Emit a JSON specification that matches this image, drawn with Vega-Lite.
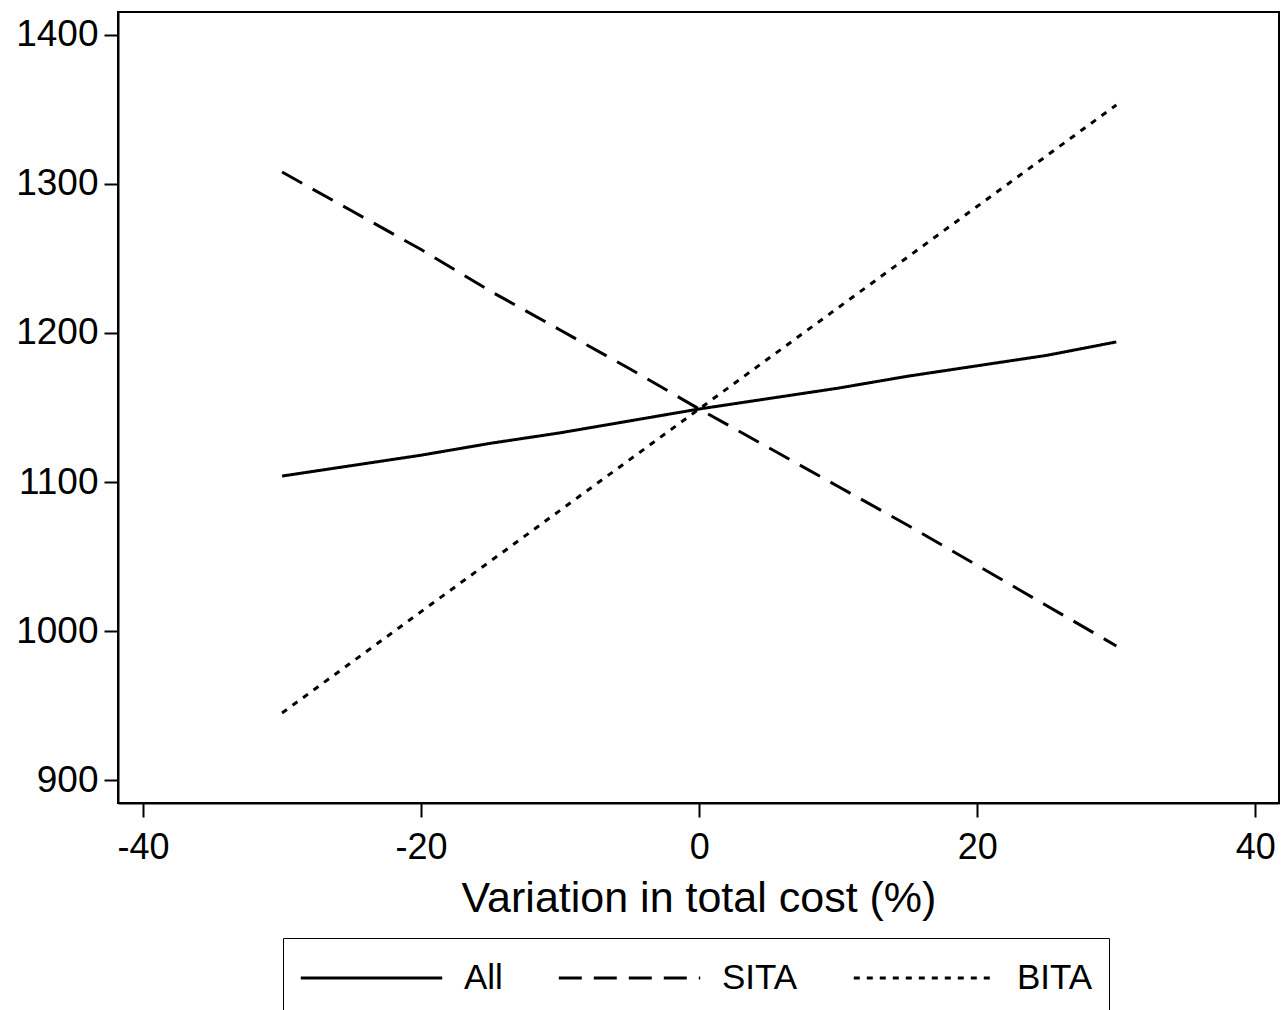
{
  "$schema": "https://vega.github.io/schema/vega-lite/v6.json",
  "width": 1161,
  "height": 791,
  "autosize": "none",
  "padding": {"left": 118, "top": 12, "right": 2, "bottom": 207},
  "background": "white",
  "config": {
    "font": "Liberation Sans",
    "view": {"stroke": "black", "strokeWidth": 2}
  },
  "data": {
    "values": [
      {"x": -30, "y": 1104, "s": "All"}, {"x": -25, "y": 1111, "s": "All"}, {"x": -20, "y": 1118, "s": "All"},
      {"x": -15, "y": 1126, "s": "All"}, {"x": -10, "y": 1133, "s": "All"}, {"x": -5, "y": 1141, "s": "All"},
      {"x": 0, "y": 1149, "s": "All"}, {"x": 5, "y": 1156, "s": "All"}, {"x": 10, "y": 1163, "s": "All"},
      {"x": 15, "y": 1171, "s": "All"}, {"x": 20, "y": 1178, "s": "All"}, {"x": 25, "y": 1185, "s": "All"},
      {"x": 30, "y": 1194, "s": "All"},
      {"x": -30, "y": 1308, "s": "SITA"}, {"x": -25, "y": 1282, "s": "SITA"}, {"x": -20, "y": 1256, "s": "SITA"},
      {"x": -15, "y": 1228, "s": "SITA"}, {"x": -10, "y": 1202, "s": "SITA"}, {"x": -5, "y": 1176, "s": "SITA"},
      {"x": 0, "y": 1149, "s": "SITA"}, {"x": 5, "y": 1123, "s": "SITA"}, {"x": 10, "y": 1097, "s": "SITA"},
      {"x": 15, "y": 1071, "s": "SITA"}, {"x": 20, "y": 1044, "s": "SITA"}, {"x": 25, "y": 1017, "s": "SITA"},
      {"x": 30, "y": 990, "s": "SITA"},
      {"x": -30, "y": 945, "s": "BITA"}, {"x": -25, "y": 979, "s": "BITA"}, {"x": -20, "y": 1013, "s": "BITA"},
      {"x": -15, "y": 1047, "s": "BITA"}, {"x": -10, "y": 1081, "s": "BITA"}, {"x": -5, "y": 1115, "s": "BITA"},
      {"x": 0, "y": 1149, "s": "BITA"}, {"x": 5, "y": 1183, "s": "BITA"}, {"x": 10, "y": 1217, "s": "BITA"},
      {"x": 15, "y": 1251, "s": "BITA"}, {"x": 20, "y": 1285, "s": "BITA"}, {"x": 25, "y": 1319, "s": "BITA"},
      {"x": 30, "y": 1353, "s": "BITA"}
    ]
  },
  "mark": {"type": "line", "color": "black", "strokeWidth": 3},
  "encoding": {
    "x": {
      "field": "x", "type": "quantitative",
      "scale": {"domain": [-41.8, 41.7], "nice": false, "zero": false},
      "axis": {
        "values": [-40, -20, 0, 20, 40],
        "labelExpr": "'' + datum.value",
        "title": "Variation in total cost (%)",
        "titleFont": "Liberation Sans", "titleFontSize": 43, "titleFontWeight": "normal", "titleColor": "black",
        "titlePadding": 12,
        "labelFontSize": 36, "labelColor": "black", "labelPadding": 13,
        "tickSize": 14, "tickWidth": 2, "tickColor": "black",
        "domainColor": "black", "domainWidth": 2, "grid": false
      }
    },
    "y": {
      "field": "y", "type": "quantitative",
      "scale": {"domain": [884.6, 1415.4], "nice": false, "zero": false},
      "axis": {
        "values": [900, 1000, 1100, 1200, 1300, 1400],
        "labelExpr": "'' + datum.value",
        "title": null,
        "labelFontSize": 37, "labelColor": "black", "labelPadding": 6,
        "tickSize": 14, "tickWidth": 2, "tickColor": "black",
        "domainColor": "black", "domainWidth": 2, "grid": false
      }
    },
    "strokeDash": {
      "field": "s", "type": "nominal",
      "scale": {"domain": ["All", "SITA", "BITA"], "range": [[1, 0], [23, 12], [6, 7]]},
      "legend": {
        "title": null,
        "orient": "none",
        "legendX": 165,
        "legendY": 926,
        "direction": "horizontal",
        "columns": 3,
        "padding": 16,
        "strokeColor": "black",
        "fillColor": "white",
        "symbolType": "stroke",
        "symbolSize": 20000,
        "symbolStrokeWidth": 3,
        "symbolStrokeColor": "black",
        "clipHeight": 48,
        "labelFontSize": 35,
        "labelColor": "black",
        "labelOffset": 20,
        "columnPadding": 54,
        "labelLimit": 300
      }
    }
  }
}
